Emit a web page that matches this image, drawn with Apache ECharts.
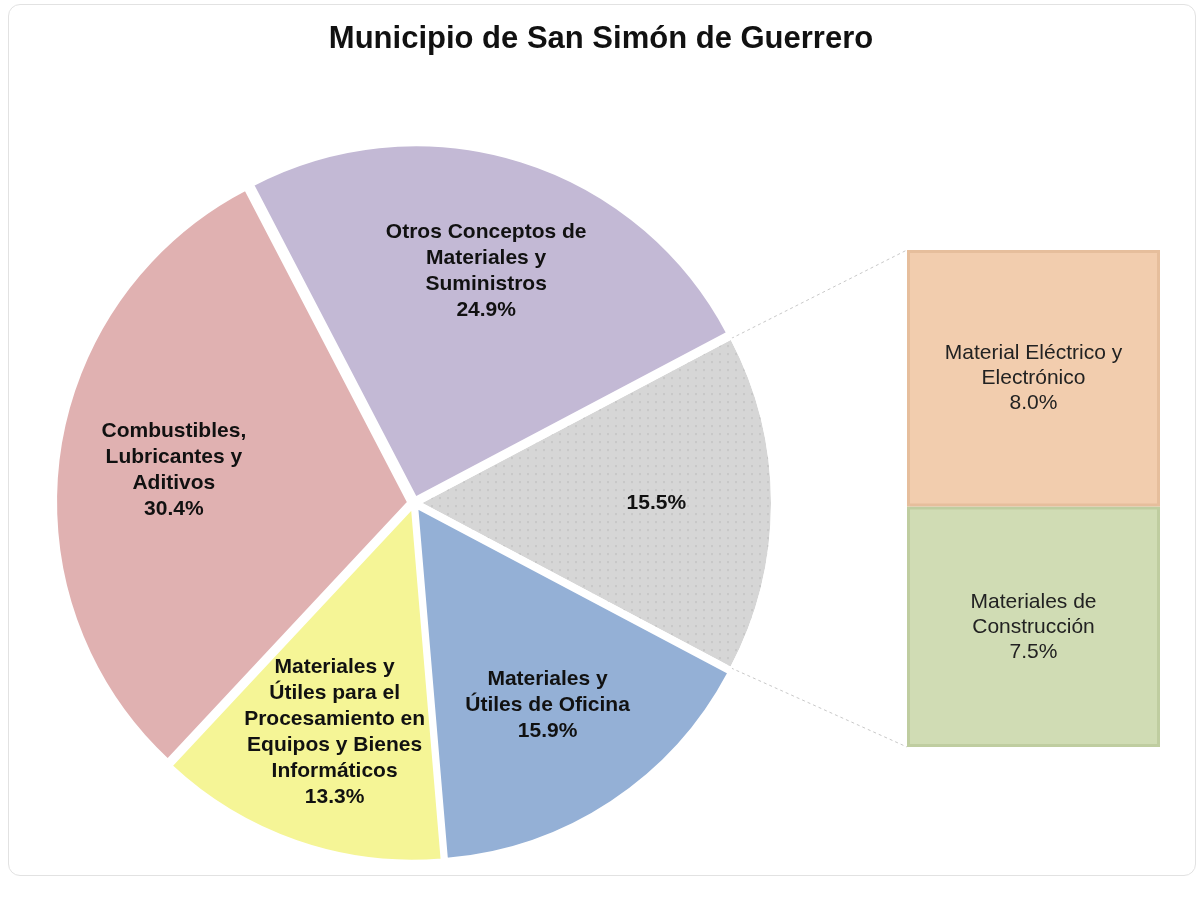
<!DOCTYPE html>
<html>
<head>
<meta charset="utf-8">
<script src="https://cdn.jsdelivr.net/npm/echarts@6/dist/echarts.min.js"></script>
<style>
    html, body { margin: 0; padding: 0; background: #fff; }
    .frame {
        position: absolute; left: 8px; top: 4px; width: 1186px; height: 870px;
        border: 1px solid #e2e2e2; border-radius: 12px;
    }
    #chart { position: absolute; left: 0; top: 0; width: 1202px; height: 901px; }
</style>
</head>
<body>
<div class="frame"></div>
<div id="chart"></div>
<script>
// datos del gráfico
const pieNames = [
    'Otros Conceptos de\nMateriales y\nSuministros',
    '',
    'Materiales y\nÚtiles de Oficina',
    'Materiales y\nÚtiles para el\nProcesamiento en\nEquipos y Bienes\nInformáticos',
    'Combustibles,\nLubricantes y\nAditivos'
];
const pieValues = [24.9, 15.5, 15.9, 13.3, 30.4];
const pieColors = ['#C3B9D5', '#D6D6D6', '#94B0D6', '#F5F596', '#E0B1B1'];

const barNames = ['Materiales de\nConstrucción', 'Material Eléctrico y\nElectrónico'];
const barValues = [7.5, 8.0];
const barColors = ['#D0DCB4', '#F2CDAE'];

const center = [414, 503];
const R = 352;
const explode = 6;
const startAngle = 117.5;
const barBox = { left: 907, top: 250, right: 1160, bottom: 747 };

const chart = echarts.init(document.getElementById('chart'));

const pieData = pieValues.map((v, i) => ({
    name: pieNames[i],
    value: v,
    selected: true,
    itemStyle: i === 1 ? {
        color: pieColors[i],
        decal: { symbol: 'circle', symbolSize: 0.5, color: 'rgba(180,180,180,0.5)', dashArrayX: 4, dashArrayY: 4 }
    } : { color: pieColors[i] }
}));

// ángulos del sector "otros" para las líneas de conexión
const total = pieValues.reduce((a, b) => a + b, 0);
const a1 = startAngle - pieValues[0] / total * 360;
const a2 = a1 - pieValues[1] / total * 360;
const rad = d => d * Math.PI / 180;
const mid = rad((a1 + a2) / 2);
const cx = center[0] + explode * Math.cos(mid), cy = center[1] - explode * Math.sin(mid);
const p1 = [cx + R * Math.cos(rad(a1)), cy - R * Math.sin(rad(a1))];
const p2 = [cx + R * Math.cos(rad(a2)), cy - R * Math.sin(rad(a2))];

const labelFmt = p => (p.name ? p.name + '\n' : '') + p.value.toFixed(1) + '%';

chart.setOption({
    title: {
        text: 'Municipio de San Simón de Guerrero',
        left: 'center',
        top: 19,
        textStyle: { fontFamily: 'Liberation Sans', fontSize: 31, fontWeight: 'bold', color: '#111' }
    },
    grid: {
        left: barBox.left, top: barBox.top,
        right: 1202 - barBox.right, bottom: 901 - barBox.bottom
    },
    xAxis: { type: 'category', data: ['otros'], show: false },
    yAxis: { type: 'value', min: 0, max: 15.5, show: false },
    series: [
        {
            type: 'pie',
            center: center,
            radius: [0, R],
            startAngle: startAngle,
            clockwise: true,
            selectedMode: 'multiple',
            selectedOffset: explode,
            silent: true,
            data: pieData,
            itemStyle: { borderColor: '#fff', borderWidth: 2 },
            label: { show: false },
            labelLine: { show: false }
        },
        {
            // serie transparente solo para colocar las etiquetas más afuera
            type: 'pie',
            z: 5,
            center: center,
            radius: [R * 0.36, R],
            startAngle: startAngle,
            clockwise: true,
            silent: true,
            data: pieValues.map((v, i) => ({ name: pieNames[i], value: v })),
            itemStyle: { color: 'rgba(0,0,0,0)' },
            label: {
                show: true,
                position: 'inside',
                formatter: labelFmt,
                fontFamily: 'Liberation Sans',
                fontSize: 21,
                fontWeight: 'bold',
                lineHeight: 26,
                color: '#111'
            },
            labelLine: { show: false }
        },
        ...barValues.map((v, i) => ({
            type: 'bar',
            stack: 'otros',
            name: barNames[i],
            barWidth: '100%',
            silent: true,
            data: [v],
            itemStyle: { color: barColors[i], borderColor: i ? '#E6BE9C' : '#BFCDA0', borderWidth: 3 },
            label: {
                show: true,
                position: 'inside',
                formatter: p => barNames[i] + '\n' + p.value.toFixed(1) + '%',
                fontFamily: 'Liberation Sans',
                fontSize: 21,
                lineHeight: 25,
                color: '#222'
            }
        }))
    ],
    graphic: [
        {
            type: 'line',
            shape: { x1: p1[0], y1: p1[1], x2: barBox.left, y2: barBox.top },
            style: { stroke: '#c8c8c8', lineWidth: 1, lineDash: [3, 3] }
        },
        {
            type: 'line',
            shape: { x1: p2[0], y1: p2[1], x2: barBox.left, y2: barBox.bottom },
            style: { stroke: '#c8c8c8', lineWidth: 1, lineDash: [3, 3] }
        }
    ]
});
</script>
</body>
</html>
